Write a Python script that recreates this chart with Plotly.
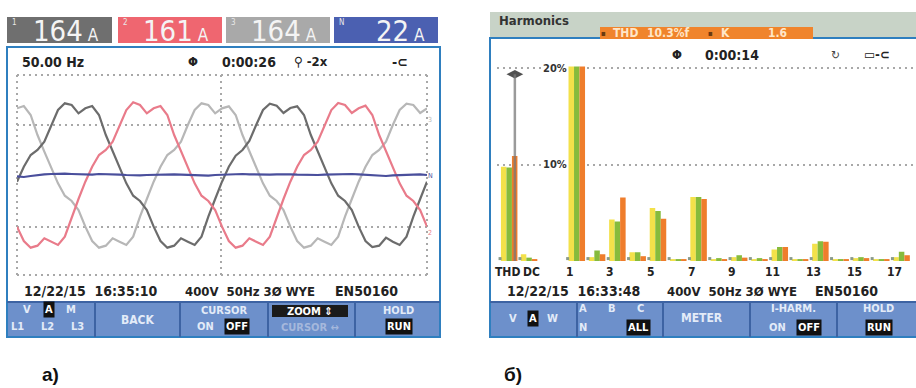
import plotly.graph_objects as go

W, H = 916, 388


def X(px):
    return px / W


def Y(py):
    return 1 - py / H


# ---------------- data: panel a) waveforms (A), sampled every 2/3 ms ----------------
t_ms = [round(i * 2 / 3, 4) for i in range(61)]

i_L1 = [-20, 25, 60, 75, 100, 150, 195, 215, 210, 185,
        200, 207, 180, 120, 70, 20, -25, -62, -78, -105,
        -155, -198, -218, -212, -190, -200, -210, -185, -125, -72,
        -20, 25, 58, 75, 102, 150, 195, 214, 208, 186,
        201, 206, 180, 120, 70, 20, -25, -62, -78, -105,
        -155, -198, -216, -212, -188, -200, -210, -185, -125, -72,
        -20]
i_L2 = [-155, -198, -218, -212, -190, -200, -210, -185, -125, -72,
        -20, 25, 60, 75, 100, 150, 195, 218, 210, 185,
        200, 207, 180, 120, 70, 20, -25, -62, -78, -105,
        -155, -198, -218, -212, -190, -200, -210, -185, -125, -72,
        -20, 25, 60, 75, 100, 150, 195, 216, 210, 186,
        200, 208, 180, 120, 70, 20, -25, -62, -78, -105,
        -155]
i_L3 = [200, 207, 180, 120, 70, 20, -25, -62, -78, -105,
        -155, -198, -218, -212, -190, -200, -210, -185, -125, -72,
        -20, 25, 60, 75, 100, 150, 195, 215, 210, 185,
        200, 206, 180, 120, 70, 20, -25, -62, -78, -105,
        -155, -198, -218, -212, -190, -200, -210, -185, -125, -72,
        -20, 25, 60, 75, 100, 150, 195, 214, 210, 186,
        200]
i_N = [-4, -6, -3, 0, 2, 3, 4, 4, 3, 2, 0, 1, 3, 3, 2, 1, 0, -1, -1, 0,
       1, 2, 3, 2, 1, 0, -2, -3, -2, 0, 1, 2, 3, 3, 2, 1, 0, 1, 2, 3,
       2, 1, 0, -1, 0, 1, 2, 3, 4, 3, 2, 1, 0, -2, -3, -1, 0, 2, 3, 2, 0]

header_tags = ["1", "2", "3", "N"]
header_values = ["164", "161", "164", "22"]

# ---------------- data: panel б) harmonics (%f) ----------------
harm_labels = ["THD", "DC", "1", "2", "3", "4", "5", "6", "7", "8", "9",
               "10", "11", "12", "13", "14", "15", "16", "17"]
harm_A = [9.8, 0.7, 100, 0.4, 4.3, 0.9, 5.5, 0.2, 6.65, 0.2, 0.4,
          0.2, 1.2, 0.2, 1.8, 0.2, 0.3, 0.2, 0.4]
harm_B = [9.7, 0.35, 100, 1.1, 4.1, 0.9, 5.2, 0.2, 6.65, 0.3, 0.6,
          0.3, 1.45, 0.2, 2.05, 0.2, 0.4, 0.2, 0.95]
harm_C = [10.9, 0.2, 100, 0.7, 6.6, 0.5, 4.4, 0.2, 6.45, 0.2, 0.35,
          0.2, 1.45, 0.2, 2.0, 0.2, 0.3, 0.2, 0.6]
harm_ticks = ["THD", "DC", "1", "3", "5", "7", "9", "11", "13", "15", "17"]
cursor_top = 19.4

# ---------------- styling ----------------
FONT = "DejaVu Sans Condensed, Liberation Sans Narrow, DejaVu Sans"
C_L1, C_L2, C_L3, C_N = "#6c6c6c", "#e97b8a", "#b7b7b7", "#4a4f9c"
BAR_A, BAR_B, BAR_C = "#f3e14a", "#86bb3c", "#ef7d2c"
FRAME = "#2f7fbf"
BTN = "#6d90cb"
BTN_SEP = "#3d63a3"
BTN_TXT = "#e3ebf8"

# bar x positions (layout): THD and DC slots, then harmonic orders
x_pos = [-2.33, -1.35] + list(range(1, 18))
tick_pos = {"THD": -2.42, "DC": -1.25}
for n in range(1, 18, 2):
    tick_pos[str(n)] = n - 0.34

fig = go.Figure()

for ys, col in [(i_L3, C_L3), (i_L1, C_L1), (i_L2, C_L2), (i_N, C_N)]:
    fig.add_trace(go.Scatter(x=t_ms, y=ys, mode="lines", xaxis="x", yaxis="y",
                             line=dict(color=col, width=2.2), hoverinfo="skip",
                             showlegend=False))

for ys, col in [(harm_A, BAR_A), (harm_B, BAR_B), (harm_C, BAR_C)]:
    fig.add_trace(go.Bar(x=x_pos, y=ys, xaxis="x2", yaxis="y2",
                         marker=dict(color=col, line=dict(width=0)),
                         showlegend=False, hoverinfo="skip"))

# small baseline markers in harmonic panel
fig.add_trace(go.Scatter(x=[p - 0.45 for p in x_pos], y=[0.25] * len(x_pos),
                         mode="markers", xaxis="x2", yaxis="y2",
                         marker=dict(symbol="square", size=3, color="#8a9a8a"),
                         showlegend=False, hoverinfo="skip"))
# cursor marker
fig.add_trace(go.Scatter(x=[x_pos[0] + 0.28], y=[cursor_top], mode="markers",
                         xaxis="x2", yaxis="y2",
                         marker=dict(symbol="diamond-wide", size=12, color="#505050"),
                         showlegend=False, hoverinfo="skip"))

shapes = []
ann = []


def rect(x0, y0, x1, y1, fill, line=None, lw=0, layer="below"):
    shapes.append(dict(type="rect", xref="paper", yref="paper",
                       x0=X(x0), x1=X(x1), y0=Y(y1), y1=Y(y0),
                       fillcolor=fill, line=dict(color=line or fill, width=lw),
                       layer=layer))


def vline(x, y0, y1, color, w=2, dash=None, layer="below"):
    shapes.append(dict(type="line", xref="paper", yref="paper",
                       x0=X(x), x1=X(x), y0=Y(y0), y1=Y(y1),
                       line=dict(color=color, width=w, dash=dash), layer=layer))


def hline(y, x0, x1, color, w=2, dash=None, layer="below"):
    shapes.append(dict(type="line", xref="paper", yref="paper",
                       x0=X(x0), x1=X(x1), y0=Y(y), y1=Y(y),
                       line=dict(color=color, width=w, dash=dash), layer=layer))


def txt(x, y, s, size=12, color="#222", anchor="center", bold=True, bg=None,
        family=FONT, pad=1):
    ann.append(dict(x=X(x), y=Y(y), xref="paper", yref="paper",
                    text=("<b>%s</b>" % s) if bold else s, showarrow=False,
                    xanchor=anchor, yanchor="middle",
                    font=dict(size=size, color=color, family=family),
                    bgcolor=bg, borderpad=pad))


# ================= panel a) =================
box_x = [(7, 112), (118, 222), (226, 330), (334, 438)]
box_col = ["#6f6f6f", "#ef6670", "#a9a9a9", "#4b60b1"]
for (x0, x1), col, tag, val in zip(box_x, box_col, header_tags, header_values):
    rect(x0, 17, x1, 43, col)
    txt(x0 + 7, 22, tag, size=8, color="#e8e8e8", bold=False)
    txt(x1 - 11, 31, val + "<span style='font-size:17px'> A</span>", size=29,
        color="#f4f4f4", anchor="right", bold=False)

# screen
rect(7, 47, 440, 337, "white", FRAME, 2)
rect(8, 302, 439, 336, BTN)
hline(302, 7, 440, BTN_SEP, 2)
for sx in [95, 180, 268, 355]:
    vline(sx, 302, 337, BTN_SEP, 2)

# grid
GRID = "#a8a8a8"
for gy in [75, 125, 227, 275]:
    hline(gy, 17, 427, GRID, 2, "2px,4px")
for gx in [17, 221, 427]:
    vline(gx, 75, 275, GRID, 2, "2px,4px")

txt(20, 62, "50.00 Hz", 14, anchor="left")
txt(193, 61, "Φ", 13)
txt(220, 62, "0:00:26", 14, anchor="left")
txt(292, 62, "⚲ -2x", 13, anchor="left")
txt(400, 62, "-⊂", 14)

txt(430, 120, "3", 7, C_L3, bold=False)
txt(430, 176, "N", 7, C_N, bold=False)
txt(430, 233, "2", 7, C_L2, bold=False)

txt(22, 291, "12/22/15  16:35:10", 14, anchor="left")
txt(183, 291, "400V  50Hz 3Ø WYE", 13, anchor="left")
txt(333, 291, "EN50160", 14, anchor="left")

# buttons a)
txt(27, 309, "V", 11, BTN_TXT)
txt(49, 309, "A", 11, "white", bg="#111")
txt(71, 309, "M", 11, BTN_TXT)
txt(17, 326, "L1", 11, BTN_TXT)
txt(47, 326, "L2", 11, BTN_TXT)
txt(77, 326, "L3", 11, BTN_TXT)
txt(138, 320, "BACK", 12, BTN_TXT)
txt(224, 310, "CURSOR", 11, BTN_TXT)
txt(205, 326, "ON", 11, BTN_TXT)
txt(237, 326, "OFF", 11, "white", bg="#111")
rect(272, 305, 348, 317, "#1a1a1a", layer="above")
txt(310, 311, "ZOOM ⇕", 11, "white")
txt(310, 327, "CURSOR ↔", 11, "#a5b8dc")
txt(398, 310, "HOLD", 11, BTN_TXT)
txt(399, 326, "RUN", 11, "white", bg="#111")

txt(50, 374, "а)", 19, "#111", family="Liberation Sans, Arial", pad=0)

# ================= panel б) =================
rect(490, 12, 916, 38, "#c8d3c7")
txt(497, 20, "Harmonics", 13, "#333", anchor="left")
rect(600, 27, 813, 39, "#f0842c", layer="above")
txt(603, 33, "▪", 8, "#6a3a10", bold=False)
txt(611, 33, "THD", 12, "#ffe6c8", anchor="left")
txt(645, 33, "10.3%f", 12, "#ffe6c8", anchor="left")
txt(710, 33, "▪", 8, "#6a3a10", bold=False)
txt(719, 33, "K", 12, "#ffe6c8", anchor="left")
txt(766, 33, "1.6", 12, "#ffe6c8", anchor="left")

rect(490, 38, 918, 337, "white", FRAME, 2)
rect(491, 302, 916, 336, BTN)
hline(302, 490, 916, BTN_SEP, 2)
for sx in [577, 663, 750, 837]:
    vline(sx, 302, 337, BTN_SEP, 2)

for gy in [68, 165]:
    hline(gy, 497, 916, GRID, 2, "2px,4px")
txt(555, 68, "20%", 11, "#333", bg="white", pad=0)
txt(555, 164, "10%", 11, "#333", bg="white", pad=0)

# cursor line through THD
shapes.append(dict(type="line", xref="x2", yref="y2",
                   x0=x_pos[0] + 0.28, x1=x_pos[0] + 0.28, y0=0, y1=cursor_top,
                   line=dict(color="rgba(120,120,120,0.75)", width=2.5),
                   layer="above"))

txt(677, 55, "Φ", 13)
txt(703, 55, "0:00:14", 14, anchor="left")
txt(835, 55, "↻", 12, "#444", bold=False)
txt(877, 55, "▭-⊂", 13)

for lab in harm_ticks:
    ann.append(dict(x=tick_pos[lab], y=Y(272), xref="x2", yref="paper",
                    text="<b>%s</b>" % lab, showarrow=False, xanchor="center",
                    yanchor="middle", font=dict(size=12, color="#222", family=FONT)))

txt(505, 291, "12/22/15  16:33:48", 14, anchor="left")
txt(665, 291, "400V  50Hz 3Ø WYE", 13, anchor="left")
txt(813, 291, "EN50160", 14, anchor="left")

# buttons б)
txt(513, 318, "V", 11, BTN_TXT)
txt(533, 318, "A", 11, "white", bg="#111")
txt(552, 318, "W", 11, BTN_TXT)
txt(583, 308, "A", 11, BTN_TXT)
txt(612, 308, "B", 11, BTN_TXT)
txt(640, 308, "C", 11, BTN_TXT)
txt(583, 327, "N", 11, BTN_TXT)
txt(638, 327, "ALL", 11, "white", bg="#111")
txt(702, 318, "METER", 12, BTN_TXT)
txt(793, 308, "I-HARM.", 11, BTN_TXT)
txt(777, 327, "ON", 11, BTN_TXT)
txt(809, 327, "OFF", 11, "white", bg="#111")
txt(878, 308, "HOLD", 11, BTN_TXT)
txt(879, 327, "RUN", 11, "white", bg="#111")

txt(513, 374, "б)", 19, "#111", family="Liberation Sans, Arial", pad=0)

hidden = dict(visible=False, showgrid=False, zeroline=False, fixedrange=True)
fig.update_layout(
    width=W, height=H, margin=dict(l=0, r=0, t=0, b=0),
    paper_bgcolor="white", plot_bgcolor="rgba(0,0,0,0)",
    barmode="group", bargap=0.17, bargroupgap=0,
    xaxis=dict(domain=[X(17), X(427)], range=[0, 40], **hidden),
    yaxis=dict(domain=[Y(275), Y(75)], range=[-300, 300], **hidden),
    xaxis2=dict(domain=[X(497), 1.0], range=[-2.93, 17.71], **hidden),
    yaxis2=dict(domain=[Y(261), Y(66.5)], range=[0, 20.2], **hidden),
    shapes=shapes, annotations=ann, showlegend=False,
)

fig.write_html("out.html", config={"displayModeBar": False},
               post_script="document.body.style.margin='0';document.body.style.overflow='hidden';")
